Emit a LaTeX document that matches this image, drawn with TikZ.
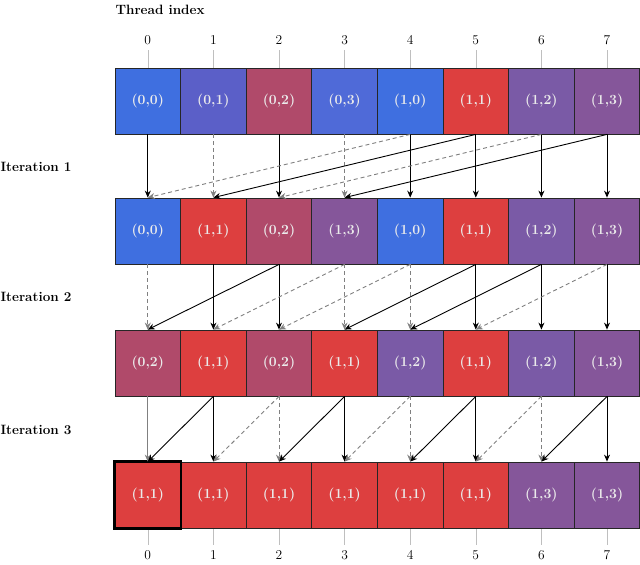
\documentclass[tikz,border=0pt]{standalone}
\usepackage{fontspec}
\usetikzlibrary{arrows.meta}
\definecolor{cA}{HTML}{3F6FE0}
\definecolor{cB}{HTML}{5B5FC8}
\definecolor{cC}{HTML}{B04A6A}
\definecolor{cD}{HTML}{4F6AD8}
\definecolor{cR}{HTML}{DD3F3F}
\definecolor{cE}{HTML}{7A5AA6}
\definecolor{cF}{HTML}{85569A}
\tikzset{
 cell/.style={draw=black!85, line width=0.8pt, minimum width=65.6pt, minimum height=66pt, inner sep=0pt, text=white!92!black, font=\bfseries\fontsize{14}{16}\selectfont},
 sol/.style={-{Stealth[length=7pt,width=6pt]}, line width=0.9pt, black},
 das/.style={-{Stealth[length=7pt,width=6pt]}, line width=0.9pt, black!50, dash pattern=on 4pt off 3pt},
 gry/.style={-{Stealth[length=7pt,width=6pt]}, line width=0.9pt, black!50},
 lbl/.style={font=\bfseries\fontsize{13.5}{16}\selectfont, anchor=west},
 idx/.style={font=\fontsize{13.5}{16}\selectfont}
}
\begin{document}
\begin{tikzpicture}[x=1pt,y=-1pt]
\useasboundingbox (0,0) rectangle (640,565);
% guide lines
\foreach \i in {0,...,7}{
 \draw[black!25, line width=0.6pt] (147.8+65.6*\i,50) -- (147.8+65.6*\i,68);
 \draw[black!25, line width=0.6pt] (147.8+65.6*\i,528) -- (147.8+65.6*\i,545);
 \node[idx] (t\i) at (147.8+65.6*\i,40) {\i};
 \node[idx] (b\i) at (147.8+65.6*\i,555) {\i};
}
\node[lbl] (ti) at (112,10) {Thread index};
\node[lbl] (i1) at (-3,167) {Iteration 1};
\node[lbl] (i2) at (-3,297) {Iteration 2};
\node[lbl] (i3) at (-3,430) {Iteration 3};
% rows
\def\mkrow#1#2#3{%
 \foreach \c/\t [count=\k from 0] in {#3}{
  \node[cell, fill=\c] (#1\k) at (147.8+65.6*\k,#2) {(\t)};
 }}
\mkrow{a}{101}{cA/{0,0},cB/{0,1},cC/{0,2},cD/{0,3},cA/{1,0},cR/{1,1},cE/{1,2},cF/{1,3}}
\mkrow{b}{231}{cA/{0,0},cR/{1,1},cC/{0,2},cF/{1,3},cA/{1,0},cR/{1,1},cE/{1,2},cF/{1,3}}
\mkrow{c}{363}{cC/{0,2},cR/{1,1},cC/{0,2},cR/{1,1},cE/{1,2},cR/{1,1},cE/{1,2},cF/{1,3}}
\mkrow{d}{495}{cR/{1,1},cR/{1,1},cR/{1,1},cR/{1,1},cR/{1,1},cR/{1,1},cF/{1,3},cF/{1,3}}
\draw[line width=2.6pt] (d0.north west) rectangle (d0.south east);
% iteration 1
\foreach \s/\k in {sol/0,das/1,sol/2,das/3,sol/4,sol/5,sol/6,sol/7}
 \draw[\s] (a\k.south) -- (b\k.north);
\foreach \s/\f/\t in {das/4/0,sol/5/1,das/6/2,sol/7/3}
 \draw[\s] (a\f.south) -- (b\t.north);
% iteration 2
\foreach \s/\k in {das/0,sol/1,sol/2,das/3,das/4,sol/5,sol/6,sol/7}
 \draw[\s] (b\k.south) -- (c\k.north);
\foreach \s/\f/\t in {sol/2/0,das/3/1,das/4/2,sol/5/3,sol/6/4,das/7/5}
 \draw[\s] (b\f.south) -- (c\t.north);
% iteration 3
\foreach \s/\k in {gry/0,sol/1,das/2,sol/3,das/4,sol/5,das/6,sol/7}
 \draw[\s] (c\k.south) -- (d\k.north);
\foreach \s/\f/\t in {sol/1/0,das/2/1,sol/3/2,das/4/3,sol/5/4,das/6/5,sol/7/6}
 \draw[\s] (c\f.south) -- (d\t.north);
\end{tikzpicture}
\end{document}
